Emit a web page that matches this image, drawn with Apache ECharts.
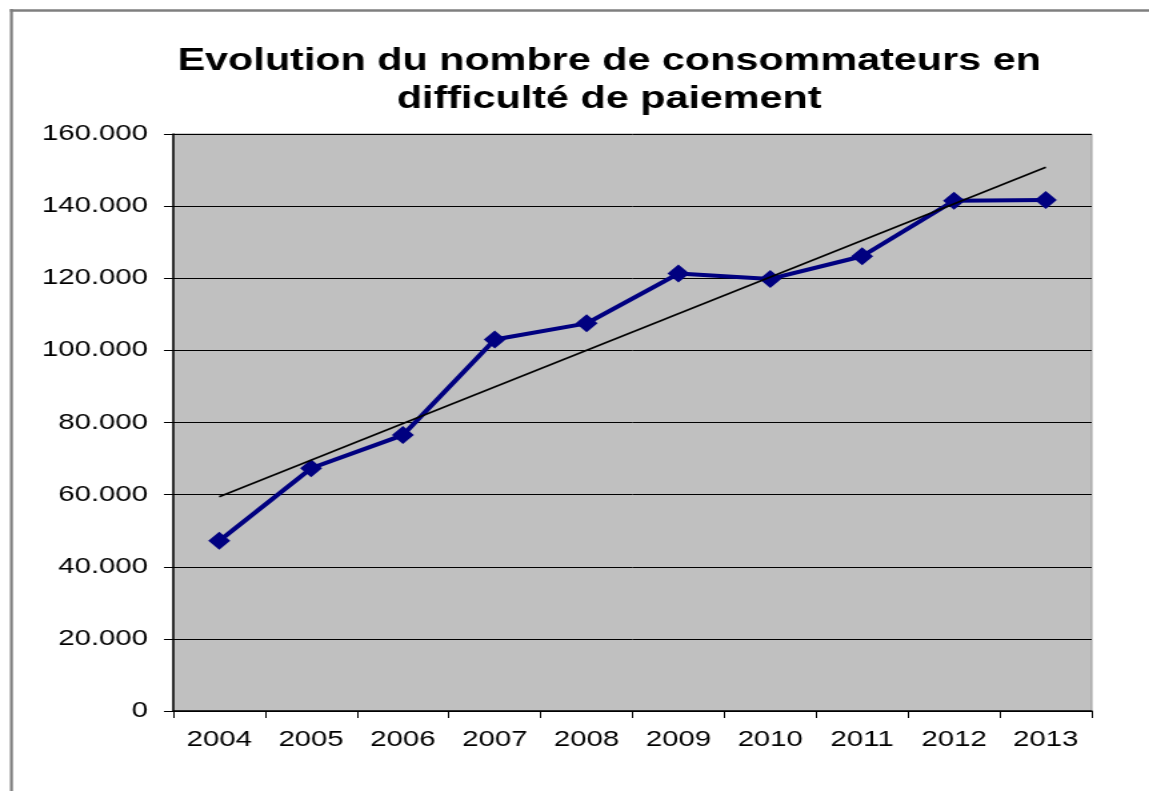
<!DOCTYPE html>
<html>
<head>
<meta charset="utf-8">
<script src="https://cdn.jsdelivr.net/npm/echarts@6/dist/echarts.min.js"></script>
<style>
html,body{margin:0;padding:0;background:#fff;overflow:hidden;}
/* l'image d'origine est étirée horizontalement */
#main{width:862px;height:791px;transform:scaleX(1.333);transform-origin:0 0;}
</style>
</head>
<body>
<div id="main"></div>
<script>
var years = ['2004','2005','2006','2007','2008','2009','2010','2011','2012','2013'];
var consumers = [47200, 67300, 76500, 103000, 107500, 121300, 119800, 126100, 141500, 141700];
// tendance (début et fin)
var trend = [59400, null, null, null, null, null, null, null, null, 150800];

var chart = echarts.init(document.getElementById('main'));
var option = {
	animation: false,
	backgroundColor: '#fff',
	title: {
		text: 'Evolution du nombre de consommateurs en\ndifficulté de paiement',
		left: 452,
		textAlign: 'center',
		top: 37,
		textStyle: {
			fontFamily: 'Liberation Sans',
			fontWeight: 'bold',
			fontSize: 31,
			lineHeight: 38,
			color: '#000'
		}
	},
	graphic: [
		{type: 'line', shape: {x1: 8.6, y1: 9, x2: 8.6, y2: 791}, style: {stroke: '#7f7f7f', lineWidth: 2.2}},
		{type: 'line', shape: {x1: 7.5, y1: 10.5, x2: 862, y2: 10.5}, style: {stroke: '#7f7f7f', lineWidth: 2.5}}
	],
	grid: {
		left: 130,
		right: 43,
		top: 134,
		bottom: 80,
		show: true,
		backgroundColor: '#c0c0c0',
		borderColor: '#9a9a9a',
		borderWidth: 1
	},
	xAxis: {
		type: 'category',
		data: years,
		boundaryGap: true,
		axisLine: {lineStyle: {color: '#000', width: 1.5}},
		axisTick: {show: true, length: 7, lineStyle: {color: '#000'}},
		axisLabel: {
			fontFamily: 'Liberation Sans',
			fontSize: 22,
			color: '#000',
			margin: 18
		}
	},
	yAxis: {
		type: 'value',
		min: 0,
		max: 160000,
		interval: 20000,
		axisLine: {show: true, lineStyle: {color: '#000', width: 1.5}},
		axisTick: {show: true, length: 7, lineStyle: {color: '#000'}},
		splitLine: {lineStyle: {color: '#000', width: 1}},
		axisLabel: {
			fontFamily: 'Liberation Sans',
			fontSize: 22,
			color: '#000',
			margin: 19,
			formatter: function (v) {
				if (v === 0) return '0';
				return (v / 1000) + '.000';
			}
		}
	},
	series: [
		{
			name: 'tendance',
			type: 'line',
			data: trend,
			connectNulls: true,
			symbol: 'none',
			z: 3,
			lineStyle: {color: '#000', width: 1.6}
		},
		{
			name: 'consommateurs',
			type: 'line',
			data: consumers,
			symbol: 'diamond',
			symbolSize: [16.5, 18],
			z: 2,
			itemStyle: {color: '#000080'},
			lineStyle: {color: '#000080', width: 4}
		}
	]
};
chart.setOption(option);
</script>
</body>
</html>
